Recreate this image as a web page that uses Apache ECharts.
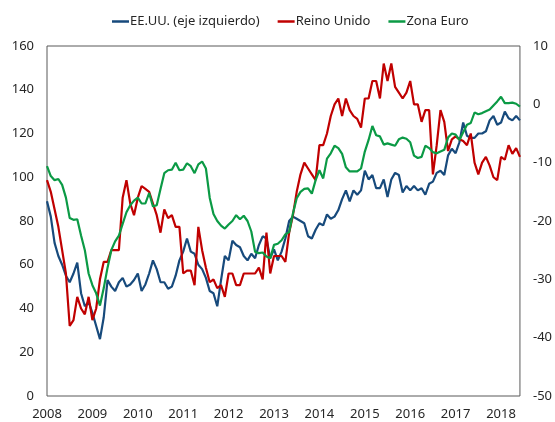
<!DOCTYPE html>
<html>
<head>
<meta charset="utf-8">
<script src="https://cdn.jsdelivr.net/npm/echarts@6/dist/echarts.min.js"></script>
<style>
  html, body { margin: 0; padding: 0; background: #fff; }
  #chart { width: 555px; height: 422px; }
</style>
</head>
<body>
<div id="chart"></div>
<script>
// meses ene-2008 .. jun-2018
const months = []
for (let y = 2008; y <= 2018; y++) {
  for (let m = 1; m <= 12; m++) {
    if (y === 2018 && m > 6) break
    months.push(y + '-' + String(m).padStart(2, '0'))
  }
}

// EE.UU. (eje izquierdo)
const usa = [
  89, 82, 70, 64, 60, 55, 52, 56, 61, 47, 41, 43,
  38, 32, 26, 36, 53, 50, 48, 52, 54, 50, 51, 53,
  56, 48, 51, 56, 62, 58, 52, 52, 49, 50, 55, 62,
  66, 72, 66, 65, 60, 58, 54, 48, 47, 41, 53, 64,
  62, 71, 69, 68, 64, 62, 65, 63, 69, 73, 72, 63,
  67, 62, 66, 72, 80, 82, 81, 80, 79, 73, 72, 76,
  79, 78, 83, 81, 82, 85, 90, 94, 89, 94, 92, 94,
  103, 99, 101, 95, 95, 99, 91, 99, 102, 101, 93, 96,
  94, 96, 94, 95, 92, 97, 98, 102, 103, 101, 110, 113,
  111, 116, 125, 119, 118, 118, 120, 120, 121, 126, 128, 124,
  125, 130, 127, 126, 128, 126
]

// Reino Unido (eje derecho)
const uk = [
  -13, -15, -18, -21, -25, -29, -38, -37, -33, -35, -36, -33,
  -37, -35, -30, -27, -27, -25, -25, -25, -16, -13, -17, -19,
  -16, -14, -14.5, -15, -17, -19, -22, -18, -19.5, -19, -21, -21,
  -29, -28.5, -28.5, -31, -21, -25, -28, -30.5, -30, -31.5, -31, -33,
  -29, -29, -31, -31, -29, -29, -29, -29, -28, -30, -22, -29,
  -26, -26, -26, -27, -22, -19, -15, -12, -10, -11, -12, -13,
  -7, -7, -5, -2, 0, 1, -2, 1, -1, -2, -2.5, -4,
  1, 1, 4, 4, 1, 7, 4, 7, 3, 2, 1, 2,
  4, 0, 0, -3, -1, -1, -12, -7, -1, -3, -8, -6,
  -5.5, -6, -6.3, -7, -5, -10, -12, -10, -9, -10.5, -12.5, -13,
  -9, -9.5, -7, -8.5, -7.5, -9
]

// Zona Euro (eje derecho)
const euro = [
  -10.6, -12.3, -13, -12.8, -13.8, -16, -19.5, -19.8, -19.7, -22.5, -25, -29,
  -31, -32.4, -34.5, -31.5, -28, -25, -23.5, -22.5, -20.5, -18.5, -17.3, -16.5,
  -16, -17, -17, -15.2, -17.5, -17.3, -14.5, -11.8, -11.3, -11.2, -10, -11.3,
  -11.2, -10.1, -10.6, -11.8, -10.3, -9.8, -11, -16, -18.8, -20, -20.8, -21.3,
  -20.6, -20, -19, -19.7, -19.1, -20, -21.8, -25.3, -25.5, -25.4, -26.1, -26.4,
  -24.1, -23.9, -23.3, -22.3, -21.9, -18.7, -16.1, -15, -14.5, -14.4, -15.3, -13,
  -11.3, -12.7, -9.3, -8.4, -7.1, -7.5, -8.5, -10.8, -11.5, -11.5, -11.5, -11,
  -8.1, -6.1, -3.7, -5.3, -5.5, -6.9, -6.7, -6.9, -7.1, -6, -5.7, -5.9,
  -6.5, -8.8, -9.2, -9, -7.1, -7.5, -8.2, -8.4, -8.1, -7.8, -5.7, -5,
  -5.2, -6.1, -4.8, -3.5, -3.2, -1.4, -1.7, -1.5, -1.2, -0.9, -0.2, 0.5,
  1.3, 0.2, 0.2, 0.3, 0.1, -0.4
]

const font = 'Noto Sans'
const textColor = '#262626'

const chart = echarts.init(document.getElementById('chart'))
chart.setOption({
  animation: false,
  textStyle: { fontFamily: font },
  legend: {
    top: 10,
    left: 107,
    icon: 'rect',
    itemWidth: 17,
    itemHeight: 2.5,
    itemGap: 18,
    textStyle: { fontSize: 13, color: textColor, fontFamily: font, padding: [0, 0, 0, -4] },
    data: ['EE.UU. (eje izquierdo)', 'Reino Unido', 'Zona Euro']
  },
  grid: {
    left: 47, right: 33, top: 46, bottom: 26,
    show: true, borderColor: '#595959', borderWidth: 1
  },
  xAxis: {
    type: 'category',
    data: months,
    boundaryGap: false,
    axisLine: { show: false },
    axisTick: { show: false },
    axisLabel: {
      interval: 11,
      margin: 12,
      fontSize: 13,
      color: textColor,
      formatter: v => v.slice(0, 4)
    }
  },
  yAxis: [
    {
      type: 'value', min: 0, max: 160, interval: 20,
      axisLine: { show: false }, axisTick: { show: false },
      splitLine: { show: false },
      axisLabel: { margin: 13, fontSize: 13, color: textColor }
    },
    {
      type: 'value', min: -50, max: 10, interval: 10, position: 'right',
      axisLine: { show: false }, axisTick: { show: false },
      splitLine: { show: false },
      axisLabel: { margin: 13, fontSize: 13, color: textColor }
    }
  ],
  series: [
    {
      name: 'EE.UU. (eje izquierdo)', type: 'line', yAxisIndex: 0, data: usa,
      symbol: 'none', color: '#174a7c', lineStyle: { width: 2.2 }
    },
    {
      name: 'Reino Unido', type: 'line', yAxisIndex: 1, data: uk,
      symbol: 'none', color: '#c00000', lineStyle: { width: 2.2 }
    },
    {
      name: 'Zona Euro', type: 'line', yAxisIndex: 1, data: euro,
      symbol: 'none', color: '#0b9a45', lineStyle: { width: 2.2 }
    }
  ]
})
</script>
</body>
</html>
